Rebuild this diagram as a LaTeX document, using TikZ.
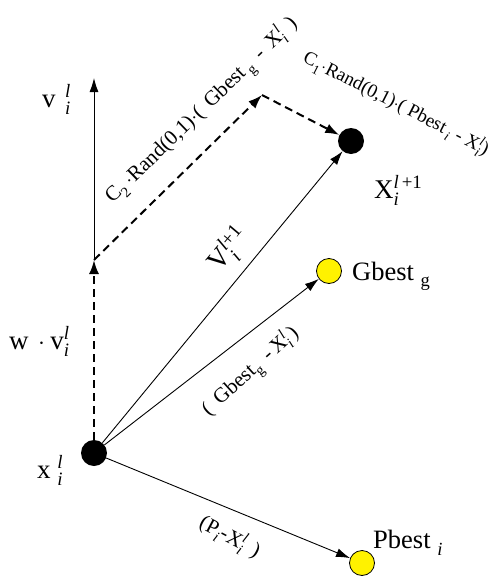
\documentclass[tikz,border=0pt]{standalone}
\usepackage{amsmath}
\usepackage{fontspec}
\setmainfont{Liberation Serif}
\usetikzlibrary{arrows.meta}
\newcommand\ssb[2]{\ensuremath{^{\textit{#1}}_{\textit{#2}}}}
\newcommand\ssu[2]{\ensuremath{^{\text{#1}}_{\text{#2}}}}
\begin{document}
\begin{tikzpicture}[x=1pt,y=-1pt,
  dotb/.style={circle,fill=black,minimum size=26pt,inner sep=0},
  doty/.style={circle,fill=yellow,draw=black,line width=0.8pt,minimum size=25pt,inner sep=0},
  vec/.style={line width=0.9pt,-{Latex[length=14pt,width=9pt]}},
  dvec/.style={line width=2pt,dash pattern=on 8pt off 5pt,-{Latex[length=14pt,width=10pt]}},
  lbl/.style={inner sep=0,font=\fontsize{27}{29}\selectfont},
  mlbl/.style={inner sep=0,font=\fontsize{26.5}{28}\selectfont},
  slbl/.style={inner sep=0,font=\fontsize{21}{23}\selectfont}]
\useasboundingbox (0,0) rectangle (500,576);
% points
\node[dotb] (xi) at (94,453) {};
\node[dotb] (xn) at (351,141) {};
\node[doty] (gb) at (329,271) {};
\node[doty] (pb) at (362,563) {};
\coordinate (a) at (94,260);
\coordinate (b) at (262,95);
\coordinate (c) at (94,78);
% connectors
\draw[vec] (a) -- (c);
\draw[dvec] (xi) -- (a);
\draw[dvec] (a) -- (b);
\draw[dvec] (b) -- (xn);
\draw[vec] (xi) -- (xn);
\draw[vec] (xi) -- (gb);
\draw[vec] (xi) -- (pb);
% labels
\node[lbl,anchor=base west] (lv) at (42,107) {v\hspace{0.35em}\ssb{l}{i}};
\node[lbl,anchor=base west] (lw) at (9,349) {w\hspace{0.35em}$\cdot$\hspace{0.2em}v\ssb{l}{i}};
\node[lbl,anchor=base west] (lx) at (37,478) {x\hspace{0.25em}\ssb{l}{i}};
\node[lbl,anchor=base west] (lxn) at (374,198) {X\ensuremath{^{\textit{l}\,\text{+1}}_{\textit{i}}}};
\node[mlbl,anchor=base west] (lg) at (352,280) {Gbest \ssu{}{g}};
\node[mlbl,anchor=base west] (lp) at (373,548) {Pbest \ssb{}{i}};
\node[lbl,rotate=50,font=\fontsize{28}{30}\selectfont] (lvn) at (229,250) {V\ssu{\textit{l}+1}{\textit{i}}};
\node[slbl,rotate=44] (lc2) at (202,111) {C\ssu{}{2}\,$\cdot$Rand(0,1)$\cdot$(\, Gbest\,\ssu{}{g}\, -\, X\ssu{\textit{l}}{\textit{i}}\, )};
\node[slbl,rotate=-27,font=\fontsize{19}{21}\selectfont] (lc1) at (396,104) {C\ssu{}{1}$\cdot$Rand(0,1)$\cdot$( Pbest\,\ssu{}{\textit{i}} - X\ssu{\textit{l}}{\textit{i}})};
\node[slbl,rotate=42] (lgx) at (251,372) {(\, Gbest\ssu{}{g}\, -\,X\ssu{\textit{l}}{\textit{i}}\,)};
\node[slbl,rotate=-28] (lpx) at (230,537) {(P\ssu{}{\textit{i}}-X\ssu{\textit{l}}{\textit{i}}\, )};
\end{tikzpicture}
\end{document}
